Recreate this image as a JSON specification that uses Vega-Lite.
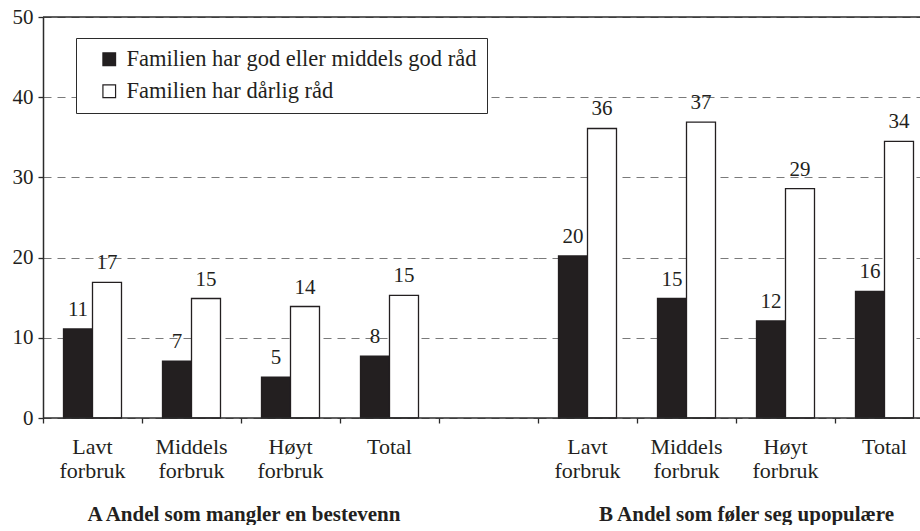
{
  "$schema": "https://vega.github.io/schema/vega-lite/v6.json",
  "padding": {"left": 12, "top": 6, "right": 0, "bottom": 0},
  "autosize": {"type": "pad"},
  "background": "white",
  "spacing": 0,
  "bounds": "flush",
  "datasets": {
    "a": [
      {"kategori": "Lavt forbruk", "serie": "Familien har god eller middels god råd", "verdi": 11.1, "etikett": "11"},
      {"kategori": "Lavt forbruk", "serie": "Familien har dårlig råd", "verdi": 16.9, "etikett": "17"},
      {"kategori": "Middels forbruk", "serie": "Familien har god eller middels god råd", "verdi": 7.1, "etikett": "7"},
      {"kategori": "Middels forbruk", "serie": "Familien har dårlig råd", "verdi": 14.9, "etikett": "15"},
      {"kategori": "Høyt forbruk", "serie": "Familien har god eller middels god råd", "verdi": 5.1, "etikett": "5"},
      {"kategori": "Høyt forbruk", "serie": "Familien har dårlig råd", "verdi": 13.9, "etikett": "14"},
      {"kategori": "Total", "serie": "Familien har god eller middels god råd", "verdi": 7.7, "etikett": "8"},
      {"kategori": "Total", "serie": "Familien har dårlig råd", "verdi": 15.3, "etikett": "15"}
    ],
    "b": [
      {"kategori": "Lavt forbruk", "serie": "Familien har god eller middels god råd", "verdi": 20.2, "etikett": "20"},
      {"kategori": "Lavt forbruk", "serie": "Familien har dårlig råd", "verdi": 36.1, "etikett": "36"},
      {"kategori": "Middels forbruk", "serie": "Familien har god eller middels god råd", "verdi": 14.9, "etikett": "15"},
      {"kategori": "Middels forbruk", "serie": "Familien har dårlig råd", "verdi": 36.9, "etikett": "37"},
      {"kategori": "Høyt forbruk", "serie": "Familien har god eller middels god råd", "verdi": 12.1, "etikett": "12"},
      {"kategori": "Høyt forbruk", "serie": "Familien har dårlig råd", "verdi": 28.6, "etikett": "29"},
      {"kategori": "Total", "serie": "Familien har god eller middels god råd", "verdi": 15.8, "etikett": "16"},
      {"kategori": "Total", "serie": "Familien har dårlig råd", "verdi": 34.5, "etikett": "34"}
    ],
    "ramme": [{"niva": 0}, {"niva": 50}]
  },
  "config": {
    "view": {"stroke": null},
    "font": "Liberation Serif",
    "text": {"font": "Liberation Serif"},
    "axis": {
      "labelFont": "Liberation Serif",
      "labelColor": "#231f20",
      "domainColor": "#2b2b2b",
      "domainWidth": 1.5,
      "tickColor": "#2b2b2b",
      "tickWidth": 1.3,
      "tickSize": 5,
      "gridColor": "#7a7a7a",
      "gridDash": [8, 6],
      "gridWidth": 1.2
    },
    "title": {
      "font": "Liberation Serif",
      "fontSize": 21,
      "fontWeight": "bold",
      "color": "#231f20"
    }
  },
  "hconcat": [
    {
      "width": 495,
      "height": 401,
      "title": {"text": "A Andel som mangler en bestevenn", "orient": "bottom", "anchor": "middle", "frame": "group", "dx": -46.5, "offset": 23},
      "layer": [
        {
          "data": {"name": "a"},
          "mark": {"type": "bar", "stroke": "#231f20", "strokeWidth": 1.3},
          "encoding": {
            "x": {
              "field": "kategori", "type": "nominal", "sort": null,
              "scale": {"domain": ["Lavt forbruk", "Middels forbruk", "Høyt forbruk", "Total", " "], "paddingInner": 0, "paddingOuter": 0},
              "axis": {"title": null, "labelAngle": 0, "bandPosition": 0, "domain": false, "labelExpr": "split(datum.value, ' ')", "labelFont": "Liberation Serif", "labelFontSize": 22, "labelLineHeight": 24, "labelPadding": 13}
            },
            "xOffset": {
              "field": "serie", "type": "nominal",
              "scale": {"domain": ["Familien har god eller middels god råd", "Familien har dårlig råd"], "paddingInner": 0, "paddingOuter": 0.707}
            },
            "y": {
              "field": "verdi", "type": "quantitative",
              "scale": {"domain": [0, 50], "nice": false},
              "axis": {"title": null, "values": [0, 10, 20, 30, 40, 50], "grid": true, "labelFont": "Liberation Serif", "labelFontSize": 21, "labelPadding": 5}
            },
            "fill": {
              "field": "serie", "type": "nominal",
              "scale": {"domain": ["Familien har god eller middels god råd", "Familien har dårlig råd"], "range": ["#231f20", "#ffffff"]},
              "legend": {
                "title": null, "orient": "none", "legendX": 33, "legendY": 21, "direction": "vertical",
                "padding": 10, "symbolOffset": 12, "symbolType": "square", "symbolSize": 160,
                "symbolStrokeColor": "#231f20", "symbolStrokeWidth": 1.2,
                "labelFont": "Liberation Serif", "labelFontSize": 22.5, "labelColor": "#231f20",
                "labelOffset": 6, "labelLimit": 600, "rowPadding": 9,
                "fillColor": "white", "strokeColor": "#2b2b2b", "cornerRadius": 0
              }
            }
          }
        },
        {
          "data": {"name": "a"},
          "mark": {"type": "text", "dy": -13, "baseline": "alphabetic", "fontSize": 21, "font": "Liberation Serif", "color": "#231f20"},
          "encoding": {
            "x": {"field": "kategori", "type": "nominal", "sort": null},
            "xOffset": {"field": "serie", "type": "nominal"},
            "y": {"field": "verdi", "type": "quantitative"},
            "text": {"field": "etikett"}
          }
        },
        {
          "data": {"name": "ramme"},
          "mark": {"type": "rule", "color": "#2b2b2b", "strokeWidth": 1.5},
          "encoding": {"y": {"field": "niva", "type": "quantitative"}}
        }
      ]
    },
    {
      "width": 382,
      "height": 401,
      "title": {"text": "B Andel som føler seg upopulære", "orient": "bottom", "anchor": "middle", "frame": "group", "dx": 17.5, "offset": 23},
      "layer": [
        {
          "data": {"name": "b"},
          "mark": {"type": "bar", "stroke": "#231f20", "strokeWidth": 1.3},
          "encoding": {
            "x": {
              "field": "kategori", "type": "nominal", "sort": null,
              "scale": {"domain": ["Lavt forbruk", "Middels forbruk", "Høyt forbruk", "Total"], "range": [0, 396], "paddingInner": 0, "paddingOuter": 0},
              "axis": {"title": null, "labelAngle": 0, "bandPosition": 0, "domain": false, "labelExpr": "split(datum.value, ' ')", "labelFont": "Liberation Serif", "labelFontSize": 22, "labelLineHeight": 24, "labelPadding": 13}
            },
            "xOffset": {
              "field": "serie", "type": "nominal",
              "scale": {"domain": ["Familien har god eller middels god råd", "Familien har dårlig råd"], "paddingInner": 0, "paddingOuter": 0.707}
            },
            "y": {
              "field": "verdi", "type": "quantitative",
              "scale": {"domain": [0, 50], "nice": false},
              "axis": {"title": null, "values": [0, 10, 20, 30, 40, 50], "grid": true, "labels": false, "ticks": false, "domain": false}
            },
            "fill": {
              "field": "serie", "type": "nominal",
              "scale": {"domain": ["Familien har god eller middels god råd", "Familien har dårlig råd"], "range": ["#231f20", "#ffffff"]},
              "legend": null
            }
          }
        },
        {
          "data": {"name": "b"},
          "mark": {"type": "text", "dy": -13, "baseline": "alphabetic", "fontSize": 21, "font": "Liberation Serif", "color": "#231f20"},
          "encoding": {
            "x": {"field": "kategori", "type": "nominal", "sort": null},
            "xOffset": {"field": "serie", "type": "nominal"},
            "y": {"field": "verdi", "type": "quantitative"},
            "text": {"field": "etikett"}
          }
        },
        {
          "data": {"name": "ramme"},
          "mark": {"type": "rule", "color": "#2b2b2b", "strokeWidth": 1.5},
          "encoding": {"y": {"field": "niva", "type": "quantitative"}}
        }
      ]
    }
  ],
  "resolve": {
    "scale": {"x": "independent", "xOffset": "independent", "y": "independent", "fill": "independent"},
    "axis": {"x": "independent", "y": "independent"},
    "legend": {"fill": "independent"}
  }
}
